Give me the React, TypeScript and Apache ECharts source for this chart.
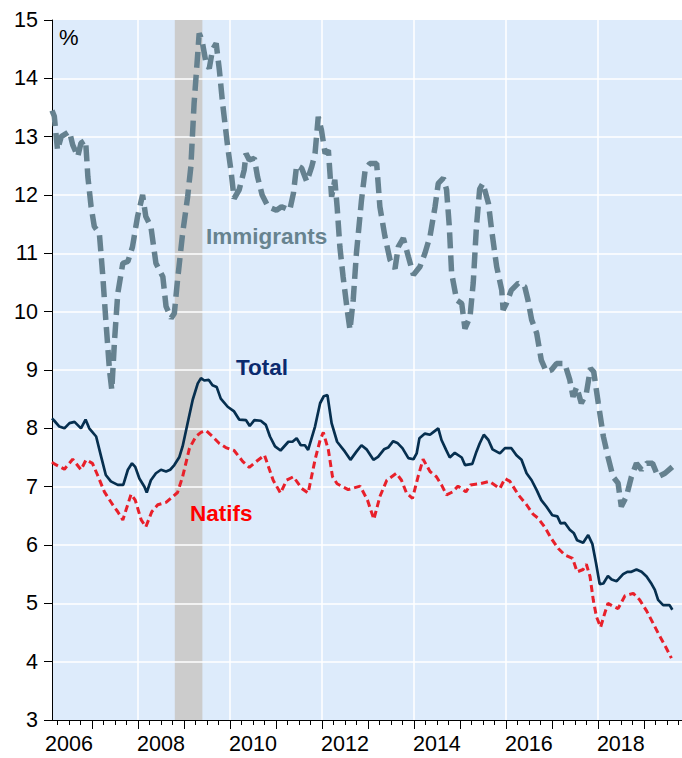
import React, { useEffect, useRef } from "react";
import * as echarts from "echarts";

const immigrantsDates = [
  2006.13, 2006.18, 2006.25, 2006.33, 2006.51, 2006.58, 2006.69, 2006.76, 2006.86, 2006.91, 2006.98,
  2007.05, 2007.16, 2007.23, 2007.3, 2007.38, 2007.43, 2007.49, 2007.56, 2007.67, 2007.78, 2007.88, 2007.99,
  2008.1, 2008.17, 2008.28, 2008.39, 2008.54, 2008.61, 2008.72, 2008.79, 2008.86, 2008.97,
  2009.08, 2009.15, 2009.22, 2009.3, 2009.33, 2009.39, 2009.48, 2009.55, 2009.62, 2009.7, 2009.77, 2009.84, 2009.95,
  2010.02, 2010.09, 2010.2, 2010.31, 2010.35, 2010.42, 2010.53, 2010.6, 2010.7, 2010.83,
  2011.01, 2011.12, 2011.3, 2011.38, 2011.45, 2011.56, 2011.67, 2011.78, 2011.85, 2011.92, 2011.99,
  2012.07, 2012.14, 2012.21, 2012.28, 2012.33, 2012.39, 2012.46, 2012.55, 2012.61, 2012.68, 2012.75, 2012.86, 2012.94,
  2013.04, 2013.19, 2013.26, 2013.37, 2013.48, 2013.59, 2013.66, 2013.77, 2013.88, 2013.99,
  2014.13, 2014.24, 2014.35, 2014.46, 2014.53, 2014.64, 2014.71, 2014.77, 2014.82, 2014.93,
  2015.04, 2015.11, 2015.22, 2015.29, 2015.36, 2015.43, 2015.5, 2015.62, 2015.69, 2015.8, 2015.91, 2015.94,
  2016.01, 2016.12, 2016.27, 2016.41, 2016.48, 2016.56, 2016.67, 2016.77, 2016.88, 2016.99,
  2017.1, 2017.28, 2017.39, 2017.46, 2017.54, 2017.64, 2017.75, 2017.84, 2017.91,
  2018.01, 2018.12, 2018.22, 2018.33, 2018.44, 2018.51, 2018.62, 2018.73, 2018.84, 2018.95,
  2019.06, 2019.19, 2019.31, 2019.46, 2019.62,
];
const immigrantsValues = [
  13.45, 13.35, 12.77, 13.0, 13.09, 12.86, 12.66, 12.89, 12.94, 12.31, 11.8,
  11.46, 11.34, 10.66, 9.86, 9.0, 8.66, 9.51, 10.31, 10.83, 10.86, 11.11, 11.63,
  12.0, 11.63, 11.46, 10.83, 10.6, 10.09, 9.89, 9.97, 10.54, 11.34,
  11.97, 12.49, 13.57, 14.43, 14.77, 14.66, 14.26, 14.17, 14.49, 14.6, 14.14, 13.57, 12.83,
  12.43, 11.94, 12.09, 12.43, 12.71, 12.6, 12.63, 12.31, 12.0, 11.8,
  11.74, 11.8, 11.74, 12.03, 12.51, 12.46, 12.23, 12.49, 12.71, 13.34, 13.11,
  12.71, 12.77, 11.97, 12.26, 11.8, 11.11, 10.6, 10.03, 9.69, 10.2, 11.0, 11.91, 12.43,
  12.54, 12.54, 11.8, 11.29, 10.89, 10.74, 11.11, 11.26, 10.94, 10.63,
  10.77, 11.0, 11.29, 11.8, 12.2, 12.29, 12.09, 11.46, 10.66, 10.2,
  10.14, 9.71, 9.91, 10.49, 11.46, 12.1, 12.2, 11.86, 11.4, 10.77, 10.37, 10.03,
  10.14, 10.37, 10.49, 10.43, 10.2, 9.86, 9.63, 9.17, 8.97, 9.0,
  9.11, 9.11, 8.83, 8.54, 8.71, 8.43, 8.6, 9.03, 8.97,
  8.43, 7.86, 7.51, 7.17, 7.06, 6.66, 6.83, 7.17, 7.4, 7.29,
  7.4, 7.4, 7.17, 7.23, 7.34,
];

const totalDates = [
  2006.13, 2006.18, 2006.29, 2006.4, 2006.51, 2006.62, 2006.76, 2006.86, 2006.94,
  2007.09, 2007.2, 2007.3, 2007.41, 2007.56, 2007.68, 2007.78, 2007.87, 2007.94,
  2008.03, 2008.14, 2008.19, 2008.28, 2008.39, 2008.5, 2008.61, 2008.7, 2008.79, 2008.9, 2008.97,
  2009.08, 2009.19, 2009.3, 2009.37, 2009.44, 2009.54, 2009.62, 2009.71, 2009.8, 2009.95,
  2010.09, 2010.2, 2010.35, 2010.43, 2010.53, 2010.67, 2010.78, 2010.87, 2010.98,
  2011.1, 2011.27, 2011.36, 2011.45, 2011.54, 2011.63, 2011.7, 2011.85, 2011.96,
  2012.04, 2012.12, 2012.21, 2012.33, 2012.5, 2012.62, 2012.75, 2012.86, 2012.97,
  2013.12, 2013.22, 2013.35, 2013.44, 2013.55, 2013.64, 2013.75, 2013.88, 2013.99,
  2014.06, 2014.12, 2014.24, 2014.35, 2014.43, 2014.53, 2014.6, 2014.7, 2014.78, 2014.89,
  2015.04, 2015.11, 2015.27, 2015.36, 2015.43, 2015.52, 2015.62, 2015.71, 2015.87, 2015.98,
  2016.12, 2016.23, 2016.34, 2016.45, 2016.56, 2016.67, 2016.77, 2016.88,
  2017.01, 2017.12, 2017.19, 2017.28, 2017.39, 2017.48, 2017.55, 2017.68, 2017.79, 2017.88, 2017.96,
  2018.04, 2018.12, 2018.22, 2018.3, 2018.41, 2018.55, 2018.64, 2018.73, 2018.84, 2018.95,
  2019.06, 2019.17, 2019.24, 2019.31, 2019.42, 2019.51, 2019.56, 2019.62,
];
const totalValues = [
  8.17, 8.13, 8.03, 8.0, 8.09, 8.11, 8.0, 8.15, 8.0,
  7.86, 7.51, 7.2, 7.09, 7.03, 7.03, 7.29, 7.4, 7.34,
  7.14, 7.0, 6.9, 7.11, 7.23, 7.29, 7.26, 7.29, 7.37, 7.51, 7.69,
  8.09, 8.49, 8.77, 8.86, 8.82, 8.83, 8.74, 8.71, 8.51, 8.37,
  8.29, 8.15, 8.14, 8.04, 8.14, 8.13, 8.06, 7.86, 7.69,
  7.62, 7.77, 7.77, 7.83, 7.71, 7.71, 7.63, 8.03, 8.43,
  8.55, 8.57, 8.09, 7.77, 7.6, 7.46, 7.6, 7.71, 7.64,
  7.46, 7.51, 7.64, 7.67, 7.78, 7.75, 7.66, 7.49, 7.47,
  7.57, 7.83, 7.91, 7.89, 7.94, 8.0, 7.8, 7.63, 7.5, 7.58,
  7.5, 7.37, 7.39, 7.6, 7.74, 7.89, 7.8, 7.64, 7.57, 7.66,
  7.66, 7.54, 7.46, 7.23, 7.11, 6.94, 6.77, 6.66,
  6.51, 6.49, 6.37, 6.38, 6.26, 6.2, 6.08, 6.04, 6.17, 6.02, 5.69,
  5.33, 5.34, 5.47, 5.41, 5.38, 5.5, 5.54, 5.54, 5.58, 5.54,
  5.46, 5.33, 5.23, 5.06, 4.97, 4.97, 4.97, 4.89,
];

const natifsDates = [
  2006.13, 2006.18, 2006.4, 2006.58, 2006.76, 2006.87,
  2007.01, 2007.12, 2007.27, 2007.45, 2007.56, 2007.67, 2007.85, 2007.94,
  2008.07, 2008.17, 2008.3, 2008.43, 2008.61, 2008.86, 2008.97,
  2009.12, 2009.26, 2009.37, 2009.48, 2009.62, 2009.77, 2009.91,
  2010.09, 2010.28, 2010.42, 2010.57, 2010.75, 2010.94,
  2011.1, 2011.23, 2011.38, 2011.56, 2011.7, 2011.85, 2011.96,
  2012.03, 2012.14, 2012.23, 2012.33, 2012.57, 2012.83, 2012.99,
  2013.13, 2013.26, 2013.41, 2013.62, 2013.73, 2013.84, 2013.97,
  2014.09, 2014.2, 2014.35, 2014.49, 2014.6, 2014.71, 2014.84, 2014.96,
  2015.13, 2015.23, 2015.43, 2015.64, 2015.87, 2015.98,
  2016.09, 2016.27, 2016.45, 2016.59, 2016.7, 2016.85, 2016.99,
  2017.14, 2017.28, 2017.45, 2017.55, 2017.68, 2017.75, 2017.83, 2017.9, 2017.97,
  2018.06, 2018.15, 2018.22, 2018.33, 2018.44, 2018.59, 2018.77, 2018.91,
  2019.06, 2019.2, 2019.35, 2019.49, 2019.6,
];
const natifsValues = [
  7.42, 7.39, 7.3, 7.47, 7.29, 7.46,
  7.4, 7.2, 6.91, 6.69, 6.57, 6.43, 6.87, 6.77,
  6.43, 6.31, 6.57, 6.69, 6.73, 6.9, 7.17,
  7.66, 7.86, 7.93, 7.96, 7.86, 7.74, 7.67,
  7.62, 7.43, 7.33, 7.43, 7.54, 7.11,
  6.89, 7.11, 7.17, 6.97, 6.89, 7.46, 7.8,
  7.93, 7.63, 7.17, 7.05, 6.95, 7.01, 6.77,
  6.44, 6.83, 7.11, 7.23, 7.11, 6.89, 6.8,
  7.17, 7.47, 7.26, 7.17, 7.03, 6.86, 6.91, 7.01,
  6.91, 7.03, 7.05, 7.09, 6.97, 7.14,
  7.09, 6.86, 6.69, 6.53, 6.46, 6.3, 6.11,
  5.94, 5.83, 5.77, 5.54, 5.58, 5.67, 5.46, 5.06, 4.77,
  4.59, 4.83, 5.0, 4.95, 4.91, 5.13, 5.17, 5.06,
  4.87, 4.66, 4.43, 4.23, 4.06,
];

const yearLabels = [2006, 2008, 2010, 2012, 2014, 2016, 2018];
const majorTickYears = [2007, 2008, 2009, 2010, 2011, 2012, 2013, 2014, 2015, 2016, 2017, 2018, 2019];
const gridYears = [2008, 2010, 2012, 2014, 2016, 2018];
const gridValues = [4, 5, 6, 7, 8, 9, 10, 11, 12, 13, 14];
const recessionStart = 2008.8;
const recessionEnd = 2009.4;

const X_MIN = 2006.13;
const X_MAX = 2019.83;
const FONT = "'Liberation Sans', Arial, Helvetica, sans-serif";

function pairs(d: number[], v: number[]) {
  return d.map((t, i) => [t, v[i]]);
}

export default function App() {
  const ref = useRef<HTMLDivElement>(null);
  useEffect(() => {
    if (!ref.current) return;
    const chart = echarts.init(ref.current, null, { renderer: "svg" });
    const quarterTicks: number[] = [];
    for (let y = 2006; y <= 2019; y++) {
      [0.25, 0.5, 0.75].forEach((q) => {
        const v = y + q;
        if (v > X_MIN && v < X_MAX) quarterTicks.push(v);
      });
    }
    const option: any = {
      animation: false,
      backgroundColor: "#ffffff",
      grid: { left: 52, right: 0, top: 20, bottom: 38, containLabel: false },
      xAxis: [
        {
          type: "value",
          min: X_MIN,
          max: X_MAX,
          axisLine: { show: true, onZero: false, lineStyle: { color: "#000", width: 1 } },
          axisTick: {
            show: true,
            inside: false,
            length: 9,
            customValues: majorTickYears,
            lineStyle: { color: "#000", width: 1 },
          },
          axisLabel: {
            show: true,
            customValues: yearLabels.map((y) => y + 0.5),
            formatter: (v: number) => String(Math.floor(v)),
            fontSize: 21.5,
            fontFamily: FONT,
            color: "#000",
            margin: 13,
          },
          splitLine: { show: false },
        },
        {
          type: "value",
          min: X_MIN,
          max: X_MAX,
          position: "bottom",
          axisLine: { show: false },
          axisTick: {
            show: true,
            inside: false,
            length: 5,
            customValues: quarterTicks,
            lineStyle: { color: "#000", width: 1 },
          },
          axisLabel: { show: false },
          splitLine: { show: false },
        },
      ],
      yAxis: {
        type: "value",
        min: 3,
        max: 15,
        interval: 1,
        axisLine: { show: true, lineStyle: { color: "#000", width: 1 } },
        axisTick: { show: true, inside: false, length: 8, lineStyle: { color: "#000", width: 1 } },
        axisLabel: { fontSize: 21.5, fontFamily: FONT, color: "#000", margin: 14 },
        splitLine: { show: false },
      },
      graphic: [
        { type: "text", left: 59, top: 26, z: 100, style: { text: "%", fontSize: 22, fontFamily: FONT, fill: "#000" } },
        {
          type: "text",
          left: 206,
          top: 225,
          z: 100,
          style: { text: "Immigrants", fontSize: 22.5, fontWeight: "bold", fontFamily: FONT, fill: "#67838F" },
        },
        {
          type: "text",
          left: 236,
          top: 356,
          z: 100,
          style: { text: "Total", fontSize: 22.5, fontWeight: "bold", fontFamily: FONT, fill: "#0B2A6E" },
        },
        {
          type: "text",
          left: 190,
          top: 502,
          z: 100,
          style: { text: "Natifs", fontSize: 22.5, fontWeight: "bold", fontFamily: FONT, fill: "#FF0000" },
        },
      ],
      series: [
        {
          type: "line",
          data: [],
          silent: true,
          markArea: {
            silent: true,
            z: -2,
            label: { show: false },
            data: [
              [
                { yAxis: 3, itemStyle: { color: "#DDEBFB" } },
                { yAxis: 15 },
              ],
              [
                { xAxis: recessionStart, itemStyle: { color: "#CCCCCC" } },
                { xAxis: recessionEnd },
              ],
            ],
          },
          markLine: {
            silent: true,
            z: -1,
            symbol: "none",
            label: { show: false },
            lineStyle: { color: "#ffffff", width: 1.5, type: "solid" },
            data: [
              ...gridValues.map((v) => ({ yAxis: v })),
              ...gridYears.map((y) => ({ xAxis: y })),
            ],
          },
        },
        {
          name: "Immigrants",
          type: "line",
          z: 3,
          data: pairs(immigrantsDates, immigrantsValues),
          showSymbol: false,
          lineStyle: { color: "#65818F", width: 5.5, type: [16, 7], cap: "butt" },
        },
        {
          name: "Natifs",
          type: "line",
          z: 4,
          data: pairs(natifsDates, natifsValues),
          showSymbol: false,
          lineStyle: { color: "#E8202A", width: 3, type: [7, 4], cap: "butt" },
        },
        {
          name: "Total",
          type: "line",
          z: 5,
          data: pairs(totalDates, totalValues),
          showSymbol: false,
          lineStyle: { color: "#062F4F", width: 2.7, type: "solid" },
        },
      ],
    };
    chart.setOption(option);
    return () => chart.dispose();
  }, []);
  return (
    <div
      ref={ref}
      style={{ position: "absolute", left: 0, top: 0, width: 682, height: 758, background: "#fff" }}
    />
  );
}
